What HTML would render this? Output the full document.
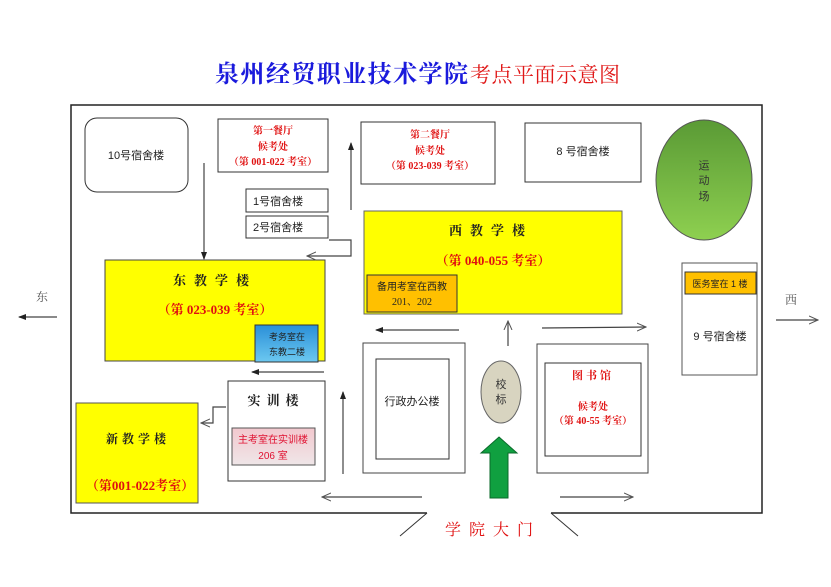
<!DOCTYPE html>
<html><head><meta charset="utf-8"><style>
html,body{margin:0;padding:0;background:#fff;}
svg{display:block;}
text{font-family:"Liberation Serif","Noto Serif CJK SC","Noto Sans CJK SC",serif;}
.s{font-family:"Liberation Sans","Noto Sans CJK SC",sans-serif;}
</style></head><body>
<svg width="831" height="587" viewBox="0 0 831 587" xmlns="http://www.w3.org/2000/svg">
<defs>
<marker id="f" markerWidth="8" markerHeight="8" refX="7" refY="4" orient="auto" markerUnits="userSpaceOnUse"><path d="M0,1 L8,4 L0,7 Z" fill="#222"/></marker>
<marker id="o" markerWidth="10" markerHeight="10" refX="9" refY="5" orient="auto" markerUnits="userSpaceOnUse"><path d="M0,1 L9,5 L0,9" fill="none" stroke="#555" stroke-width="1"/></marker>
<linearGradient id="bl" x1="0" y1="0" x2="0" y2="1"><stop offset="0" stop-color="#2a8fd8"/><stop offset="1" stop-color="#6cc8f0"/></linearGradient>
<linearGradient id="pk" x1="0" y1="0" x2="0" y2="1"><stop offset="0" stop-color="#f2c8ce"/><stop offset="1" stop-color="#efe6e8"/></linearGradient>
<linearGradient id="gr" x1="0" y1="0" x2="0" y2="1"><stop offset="0" stop-color="#5a9a35"/><stop offset="1" stop-color="#8ed050"/></linearGradient>
</defs>
<!-- title -->
<text x="215" y="82" font-size="24" font-weight="bold" fill="#1a1adc" textLength="253" style="font-family:'Noto Serif CJK SC',serif">泉州经贸职业技术学院</text>
<text x="470" y="82" font-size="21" fill="#e01818" textLength="150" style="font-family:'Noto Serif CJK SC',serif">考点平面示意图</text>
<!-- border -->
<path d="M427,513 L71,513 L71,105 L762,105 L762,513 L551,513" fill="none" stroke="#222" stroke-width="1.5"/>
<line x1="427" y1="513" x2="400" y2="536" stroke="#333"/>
<line x1="551" y1="513" x2="578" y2="536" stroke="#333"/>
<!-- 10号 -->
<rect x="85" y="118" width="103" height="74" rx="12" fill="#fff" stroke="#333"/>
<text class="s" x="136" y="159" font-size="11" text-anchor="middle" fill="#222">10号宿舍楼</text>
<!-- 第一餐厅 -->
<rect x="218" y="119" width="110" height="53" fill="#fff" stroke="#333"/>
<text x="273" y="134" font-size="10" font-weight="bold" text-anchor="middle" fill="#e01010">第一餐厅</text>
<text x="273" y="150" font-size="10" font-weight="bold" text-anchor="middle" fill="#e01010">候考处</text>
<text x="273" y="165" font-size="10" font-weight="bold" text-anchor="middle" fill="#e01010">（第 001-022 考室）</text>
<rect x="246" y="189" width="82" height="23" fill="#fff" stroke="#333"/>
<text class="s" x="253" y="205" font-size="11" fill="#222">1号宿舍楼</text>
<rect x="246" y="216" width="82" height="22" fill="#fff" stroke="#333"/>
<text class="s" x="253" y="231" font-size="11" fill="#222">2号宿舍楼</text>
<!-- 第二餐厅 -->
<rect x="361" y="122" width="134" height="62" fill="#fff" stroke="#333"/>
<text x="430" y="138" font-size="10" font-weight="bold" text-anchor="middle" fill="#e01010">第二餐厅</text>
<text x="430" y="154" font-size="10" font-weight="bold" text-anchor="middle" fill="#e01010">候考处</text>
<text x="430" y="169" font-size="10" font-weight="bold" text-anchor="middle" fill="#e01010">（第 023-039 考室）</text>
<rect x="525" y="123" width="116" height="59" fill="#fff" stroke="#333"/>
<text class="s" x="583" y="155" font-size="11" text-anchor="middle" fill="#222">8 号宿舍楼</text>
<ellipse cx="704" cy="180" rx="48" ry="60" fill="url(#gr)" stroke="#555"/>
<text class="s" x="704" y="169" font-size="11" text-anchor="middle" fill="#333">运</text>
<text class="s" x="704" y="184" font-size="11" text-anchor="middle" fill="#333">动</text>
<text class="s" x="704" y="200" font-size="11" text-anchor="middle" fill="#333">场</text>
<!-- 西教学楼 -->
<rect x="364" y="211" width="258" height="103" fill="#ffff00" stroke="#666"/>
<text x="491" y="235" font-size="13" font-weight="bold" text-anchor="middle" fill="#222" letter-spacing="8">西教学楼</text>
<text x="493" y="265" font-size="13" font-weight="bold" text-anchor="middle" fill="#e01010">（第 040-055 考室）</text>
<rect x="367" y="275" width="90" height="37" fill="#ffc000" stroke="#333"/>
<text class="s" x="412" y="290" font-size="10" text-anchor="middle" fill="#222">备用考室在西教</text>
<text x="412" y="305" font-size="10" text-anchor="middle" fill="#222">201、202</text>
<!-- 9号 -->
<rect x="682" y="263" width="75" height="112" fill="#fff" stroke="#555"/>
<rect x="685" y="272" width="71" height="22" fill="#ffc000" stroke="#333"/>
<text class="s" x="720" y="287" font-size="9" text-anchor="middle" fill="#222">医务室在 1 楼</text>
<text class="s" x="720" y="340" font-size="11" text-anchor="middle" fill="#222">9 号宿舍楼</text>
<!-- 东教学楼 -->
<rect x="105" y="260" width="220" height="101" fill="#ffff00" stroke="#444"/>
<text x="215" y="285" font-size="13" font-weight="bold" text-anchor="middle" fill="#222" letter-spacing="8">东教学楼</text>
<text x="215" y="314" font-size="13" font-weight="bold" text-anchor="middle" fill="#e01010">（第 023-039 考室）</text>
<rect x="255" y="325" width="63" height="37" fill="url(#bl)" stroke="#333"/>
<text class="s" x="287" y="340" font-size="9" text-anchor="middle" fill="#222">考务室在</text>
<text class="s" x="287" y="355" font-size="9" text-anchor="middle" fill="#222">东教二楼</text>
<!-- 实训楼 -->
<rect x="228" y="381" width="97" height="100" fill="#fff" stroke="#333"/>
<text x="276" y="405" font-size="13" font-weight="bold" text-anchor="middle" fill="#222" letter-spacing="6">实训楼</text>
<rect x="232" y="428" width="83" height="37" fill="url(#pk)" stroke="#555"/>
<text class="s" x="273" y="443" font-size="10" text-anchor="middle" fill="#e01030">主考室在实训楼</text>
<text class="s" x="273" y="459" font-size="10" text-anchor="middle" fill="#e01030">206 室</text>
<!-- 新教学楼 -->
<rect x="76" y="403" width="122" height="100" fill="#ffff00" stroke="#555"/>
<text x="138" y="443" font-size="12" font-weight="bold" text-anchor="middle" fill="#222" letter-spacing="4">新教学楼</text>
<text x="140" y="490" font-size="13" font-weight="bold" text-anchor="middle" fill="#e01010">（第001-022考室）</text>
<!-- 行政 -->
<rect x="363" y="343" width="102" height="130" fill="#fff" stroke="#444"/>
<rect x="376" y="359" width="73" height="100" fill="#fff" stroke="#333"/>
<text class="s" x="412" y="405" font-size="11" text-anchor="middle" fill="#222">行政办公楼</text>
<!-- 校标 -->
<ellipse cx="501" cy="392" rx="20" ry="31" fill="#d8d4c0" stroke="#666"/>
<text class="s" x="501" y="388" font-size="11" text-anchor="middle" fill="#333">校</text>
<text class="s" x="501" y="403" font-size="11" text-anchor="middle" fill="#333">标</text>
<path d="M499,437 L517,453 L508,453 L508,498 L490,498 L490,453 L481,453 Z" fill="#10a040" stroke="#0a6a2a"/>
<!-- 图书馆 -->
<rect x="537" y="344" width="111" height="129" fill="#fff" stroke="#444"/>
<rect x="545" y="363" width="96" height="93" fill="#fff" stroke="#333"/>
<text x="593" y="379" font-size="11" font-weight="bold" text-anchor="middle" fill="#e01010" letter-spacing="3">图书馆</text>
<text x="593" y="410" font-size="10" font-weight="bold" text-anchor="middle" fill="#e01010">候考处</text>
<text x="593" y="424" font-size="10" font-weight="bold" text-anchor="middle" fill="#e01010">（第 40-55 考室）</text>
<!-- arrows -->
<g stroke="#444" stroke-width="1.2" fill="none">
<line x1="204" y1="163" x2="204" y2="259" marker-end="url(#f)"/>
<line x1="351" y1="210" x2="351" y2="143" marker-end="url(#f)"/>
<polyline points="329,240 351,240 351,256 307,256" marker-end="url(#o)"/>
<line x1="459" y1="330" x2="376" y2="330" marker-end="url(#f)"/>
<line x1="508" y1="346" x2="508" y2="321" marker-end="url(#o)"/>
<line x1="542" y1="328" x2="646" y2="327" marker-end="url(#o)"/>
<line x1="324" y1="372" x2="252" y2="372" marker-end="url(#f)"/>
<line x1="343" y1="474" x2="343" y2="392" marker-end="url(#f)"/>
<polyline points="226,407 213,407 213,423 201,423" marker-end="url(#o)"/>
<line x1="422" y1="497" x2="322" y2="497" marker-end="url(#o)"/>
<line x1="560" y1="497" x2="633" y2="497" marker-end="url(#o)"/>
<line x1="57" y1="317" x2="19" y2="317" marker-end="url(#f)"/>
<line x1="776" y1="320" x2="818" y2="320" marker-end="url(#o)"/>
</g>
<text x="42" y="301" font-size="12" text-anchor="middle" fill="#555">东</text>
<text x="791" y="304" font-size="12" text-anchor="middle" fill="#555">西</text>
<text x="493" y="535" font-size="16" text-anchor="middle" fill="#e01010" letter-spacing="8">学院大门</text>
</svg>
</body></html>
